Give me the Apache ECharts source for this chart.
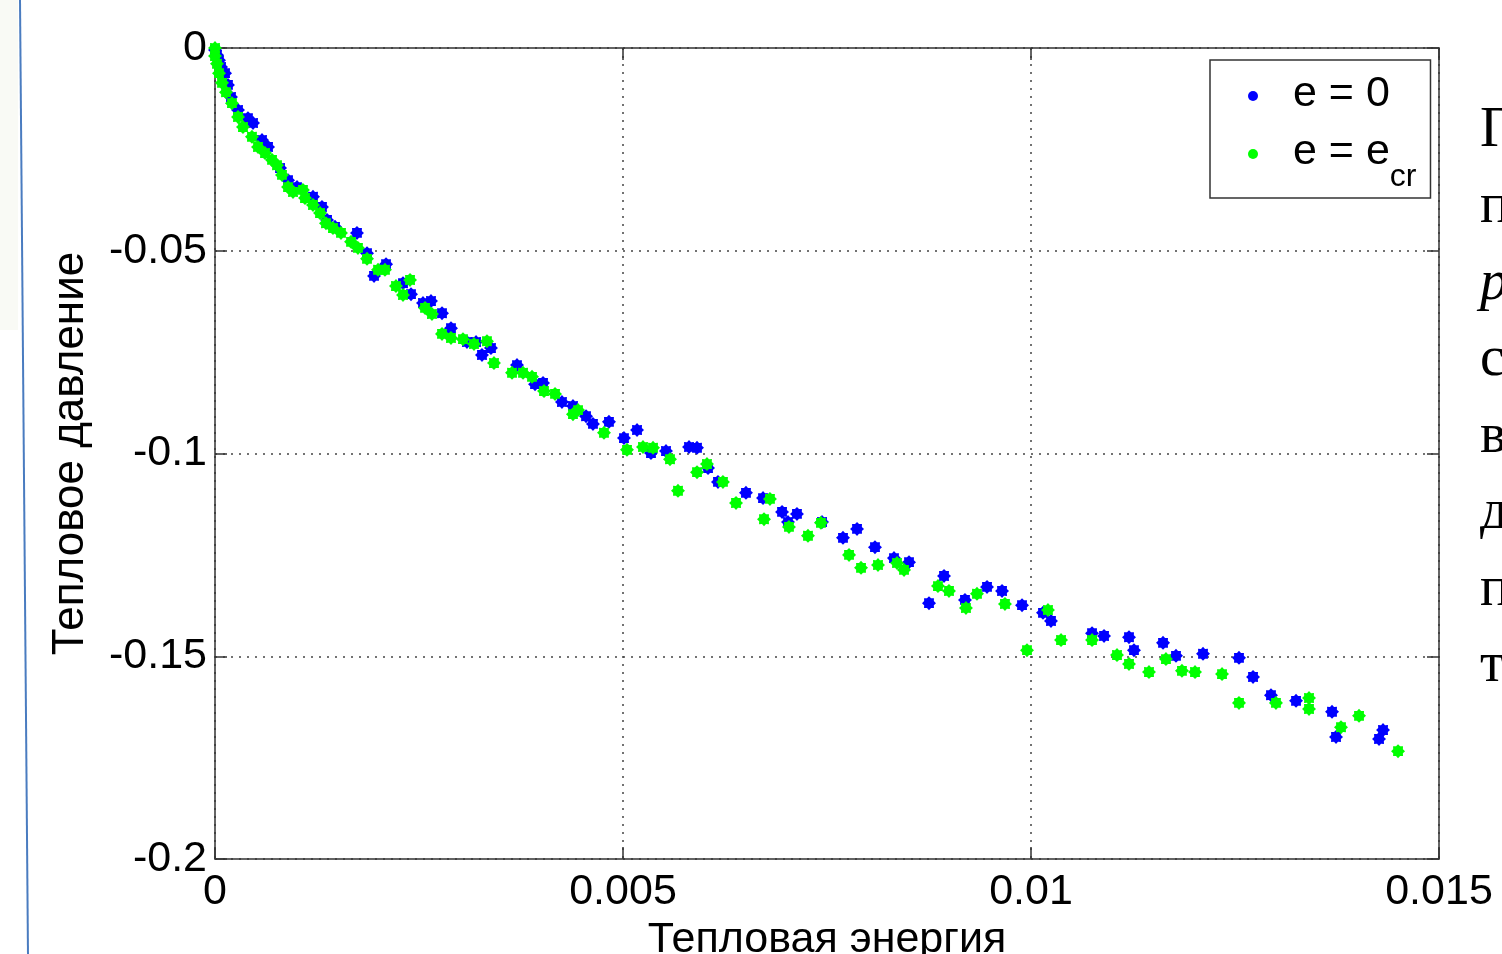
<!DOCTYPE html>
<html>
<head>
<meta charset="utf-8">
<script src="https://cdn.jsdelivr.net/npm/echarts@6/dist/echarts.min.js"></script>
<style>
  html, body { margin: 0; padding: 0; background: #fff; }
  #main { width: 1502px; height: 954px; }
</style>
</head>
<body>
<div id="main"></div>
<script>
// e = 0 (blue)
const e0Energy = [0, 0.0000245, 0.000049, 0.000074, 0.000123, 0.000159, 0.000196, 0.000282, 0.000404, 0.000466,
  0.000576, 0.00065, 0.000797, 0.000895, 0.001005, 0.001201, 0.001311, 0.001373, 0.001471, 0.00174,
  0.001863, 0.001949, 0.002096, 0.002304, 0.002402, 0.002549, 0.002647, 0.002782, 0.002892, 0.003088,
  0.003199, 0.003272, 0.003382, 0.003701, 0.003922, 0.00402, 0.004252, 0.004387, 0.004547, 0.004632,
  0.004828, 0.005012, 0.005172, 0.005343, 0.005527, 0.005809, 0.005907, 0.006042, 0.006164, 0.006507,
  0.006716, 0.006949, 0.007022, 0.007132, 0.007439, 0.007696, 0.007868, 0.008088, 0.008321, 0.008505,
  0.00875, 0.008934, 0.009191, 0.009461, 0.009645, 0.00989, 0.010147, 0.010245, 0.010748, 0.010895,
  0.011201, 0.011262, 0.011618, 0.011777, 0.012108, 0.012549, 0.012721, 0.012941, 0.013248, 0.013689,
  0.013738, 0.014265, 0.014314];
const e0Pressure = [-0.0005, -0.0017, -0.003, -0.0047, -0.0062, -0.0091, -0.0121, -0.0153, -0.0173, -0.0185,
  -0.0227, -0.0244, -0.0296, -0.0326, -0.0343, -0.0367, -0.0392, -0.0424, -0.0441, -0.0456,
  -0.0506, -0.0562, -0.0533, -0.058, -0.0607, -0.0629, -0.0624, -0.0654, -0.0691, -0.0725,
  -0.0725, -0.0757, -0.074, -0.0782, -0.0829, -0.0826, -0.0873, -0.0883, -0.0908, -0.0927,
  -0.0922, -0.0962, -0.0942, -0.0999, -0.0994, -0.0984, -0.0986, -0.1036, -0.107, -0.1097,
  -0.111, -0.1144, -0.1169, -0.1149, -0.1169, -0.1208, -0.1186, -0.1231, -0.1258, -0.1268,
  -0.1369, -0.1302, -0.1361, -0.1329, -0.1339, -0.1374, -0.1393, -0.1413, -0.1443, -0.145,
  -0.1453, -0.1485, -0.1467, -0.1499, -0.1494, -0.1504, -0.1551, -0.1596, -0.161, -0.1637,
  -0.1699, -0.1704, -0.1682];

// e = e_cr (green)
const ecrEnergy = [0, 0, 0.0000245, 0.000049, 0.000086, 0.000135, 0.000208, 0.000282, 0.000343, 0.000453,
  0.000527, 0.000613, 0.000699, 0.00076, 0.000821, 0.000895, 0.000956, 0.001078, 0.001103, 0.001201,
  0.001287, 0.00136, 0.001446, 0.001544, 0.001667, 0.001752, 0.001863, 0.001998, 0.002083, 0.002218,
  0.002304, 0.00239, 0.002574, 0.002659, 0.002782, 0.002892, 0.003039, 0.003174, 0.003333, 0.003419,
  0.00364, 0.003775, 0.003885, 0.004032, 0.004167, 0.004387, 0.004449, 0.004767, 0.005049, 0.005245,
  0.005368, 0.005576, 0.005674, 0.005907, 0.006029, 0.006225, 0.006385, 0.006728, 0.006801, 0.007034,
  0.007267, 0.007426, 0.00777, 0.007917, 0.008125, 0.008358, 0.008444, 0.00886, 0.008995, 0.009203,
  0.009338, 0.009681, 0.009951, 0.010208, 0.010368, 0.010748, 0.011054, 0.011201, 0.011446, 0.011654,
  0.01185, 0.01201, 0.012341, 0.012549, 0.013002, 0.013407, 0.013407, 0.013799, 0.01402, 0.014498];
const ecrPressure = [0, -0.002, -0.0039, -0.0062, -0.0086, -0.0109, -0.0136, -0.017, -0.0195, -0.0219,
  -0.0244, -0.0259, -0.0276, -0.0289, -0.0313, -0.0343, -0.0355, -0.035, -0.037, -0.0387,
  -0.0407, -0.0432, -0.0444, -0.0456, -0.0478, -0.0493, -0.052, -0.0547, -0.0547, -0.0587,
  -0.0609, -0.0572, -0.0641, -0.0656, -0.0705, -0.0715, -0.0718, -0.073, -0.0723, -0.0777,
  -0.0801, -0.0801, -0.0811, -0.0846, -0.0853, -0.0903, -0.0893, -0.0949, -0.0991, -0.0984,
  -0.0986, -0.1014, -0.1092, -0.1046, -0.1026, -0.107, -0.1122, -0.1162, -0.1112, -0.1181,
  -0.1203, -0.1171, -0.125, -0.1282, -0.1275, -0.127, -0.1287, -0.1327, -0.1339, -0.1381,
  -0.1346, -0.1371, -0.1485, -0.1386, -0.146, -0.146, -0.1497, -0.1519, -0.1539, -0.1507,
  -0.1536, -0.1539, -0.1544, -0.1615, -0.1615, -0.1603, -0.163, -0.1675, -0.1647, -0.1734];

const seriesNames = ['e = 0', 'e = e_cr'];
const sideLetters = ['Г', 'п', 'p', 'с', 'в', 'д', 'п', 'т'];

const zip = (xs, ys) => xs.map((x, i) => [x, ys[i]]);

const starPath = 'path://M10 0 L6.93 2.87 L7.07 7.07 L2.87 6.93 L0 10 L-2.87 6.93 L-7.07 7.07 L-6.93 2.87 L-10 0 L-6.93 -2.87 L-7.07 -7.07 L-2.87 -6.93 L0 -10 L2.87 -6.93 L7.07 -7.07 L6.93 -2.87 Z';
const font = 'Liberation Sans';

const chart = echarts.init(document.getElementById('main'));

const baseX = {
  type: 'value', min: 0, max: 0.015, interval: 0.005,
  axisLine: { show: true, onZero: false, lineStyle: { color: '#333', width: 1.5 } },
  axisTick: { show: true, inside: true, length: 12, lineStyle: { color: '#333', width: 1.5 } },
  splitLine: { show: false }
};
const baseY = {
  type: 'value', min: -0.2, max: 0, interval: 0.05,
  axisLine: { show: true, onZero: false, lineStyle: { color: '#333', width: 1.5 } },
  axisTick: { show: true, inside: true, length: 12, lineStyle: { color: '#333', width: 1.5 } },
  splitLine: { show: false }
};

chart.setOption({
  animation: false,
  backgroundColor: '#fff',
  grid: { left: 215, top: 48, right: 63, bottom: 95, outerBoundsMode: 'none', containLabel: false },
  xAxis: [
    Object.assign({}, baseX, {
      position: 'bottom',
      name: 'Тепловая энергия',
      nameLocation: 'middle',
      nameGap: 56,
      nameTextStyle: { fontFamily: font, fontSize: 43, color: '#000' },
      axisLabel: { margin: 12, fontFamily: font, fontSize: 43, color: '#000',
        formatter: v => String(+v.toFixed(4)) },
      splitLine: { show: true, lineStyle: { color: '#444', width: 1.5, type: [2, 6] } }
    }),
    Object.assign({}, baseX, { position: 'top', axisLabel: { show: false } })
  ],
  yAxis: [
    Object.assign({}, baseY, {
      position: 'left',
      name: 'Тепловое давление',
      nameLocation: 'middle',
      nameGap: 122,
      nameTextStyle: { fontFamily: font, fontSize: 44, color: '#000' },
      axisLabel: { margin: 8, fontFamily: font, fontSize: 43, color: '#000',
        formatter: v => String(+v.toFixed(3)) },
      splitLine: { show: true, lineStyle: { color: '#444', width: 1.5, type: [2, 6] } }
    }),
    Object.assign({}, baseY, { position: 'right', axisLabel: { show: false } })
  ],
  legend: {
    orient: 'vertical',
    left: 1210,
    top: 60,
    padding: [13, 14, 5, 38],
    itemGap: 15,
    itemWidth: 10,
    itemHeight: 10,
    borderColor: '#333',
    borderWidth: 1.5,
    backgroundColor: '#fff',
    data: [
      { name: seriesNames[0], icon: 'circle' },
      { name: seriesNames[1], icon: 'circle' }
    ],
    formatter: name => name === seriesNames[1] ? '{m|e = e}{s|cr}' : '{m|' + name + '}',
    textStyle: {
      padding: [0, 0, 0, 30],
      rich: {
        m: { fontFamily: font, fontSize: 43, color: '#000', lineHeight: 46, verticalAlign: 'top' },
        s: { fontFamily: font, fontSize: 32, color: '#000', lineHeight: 32, padding: [30, 0, 0, 0], verticalAlign: 'top' }
      }
    }
  },
  series: [
    {
      name: seriesNames[0], type: 'scatter',
      data: zip(e0Energy, e0Pressure),
      symbol: starPath, symbolSize: 14,
      itemStyle: { color: '#0000ff', opacity: 1 }
    },
    {
      name: seriesNames[1], type: 'scatter',
      data: zip(ecrEnergy, ecrPressure),
      symbol: starPath, symbolSize: 14,
      itemStyle: { color: '#00ff00', opacity: 1 }
    }
  ],
  graphic: [
    { type: 'rect', shape: { x: 0, y: 0, width: 18, height: 330 }, style: { fill: 'rgba(235,238,222,0.3)' }, silent: true },
    { type: 'line', shape: { x1: 20, y1: 0, x2: 28, y2: 954 }, style: { stroke: '#4a7cc0', lineWidth: 2 }, silent: true }
  ].concat(sideLetters.map((ch, i) => ({
    type: 'text', left: 1480, top: 103 + i * 76.5,
    style: {
      text: ch,
      fontFamily: 'Liberation Serif',
      fontSize: 56,
      fontStyle: ch === 'p' ? 'italic' : 'normal',
      fill: '#000'
    },
    silent: true
  })))
});
</script>
</body>
</html>
